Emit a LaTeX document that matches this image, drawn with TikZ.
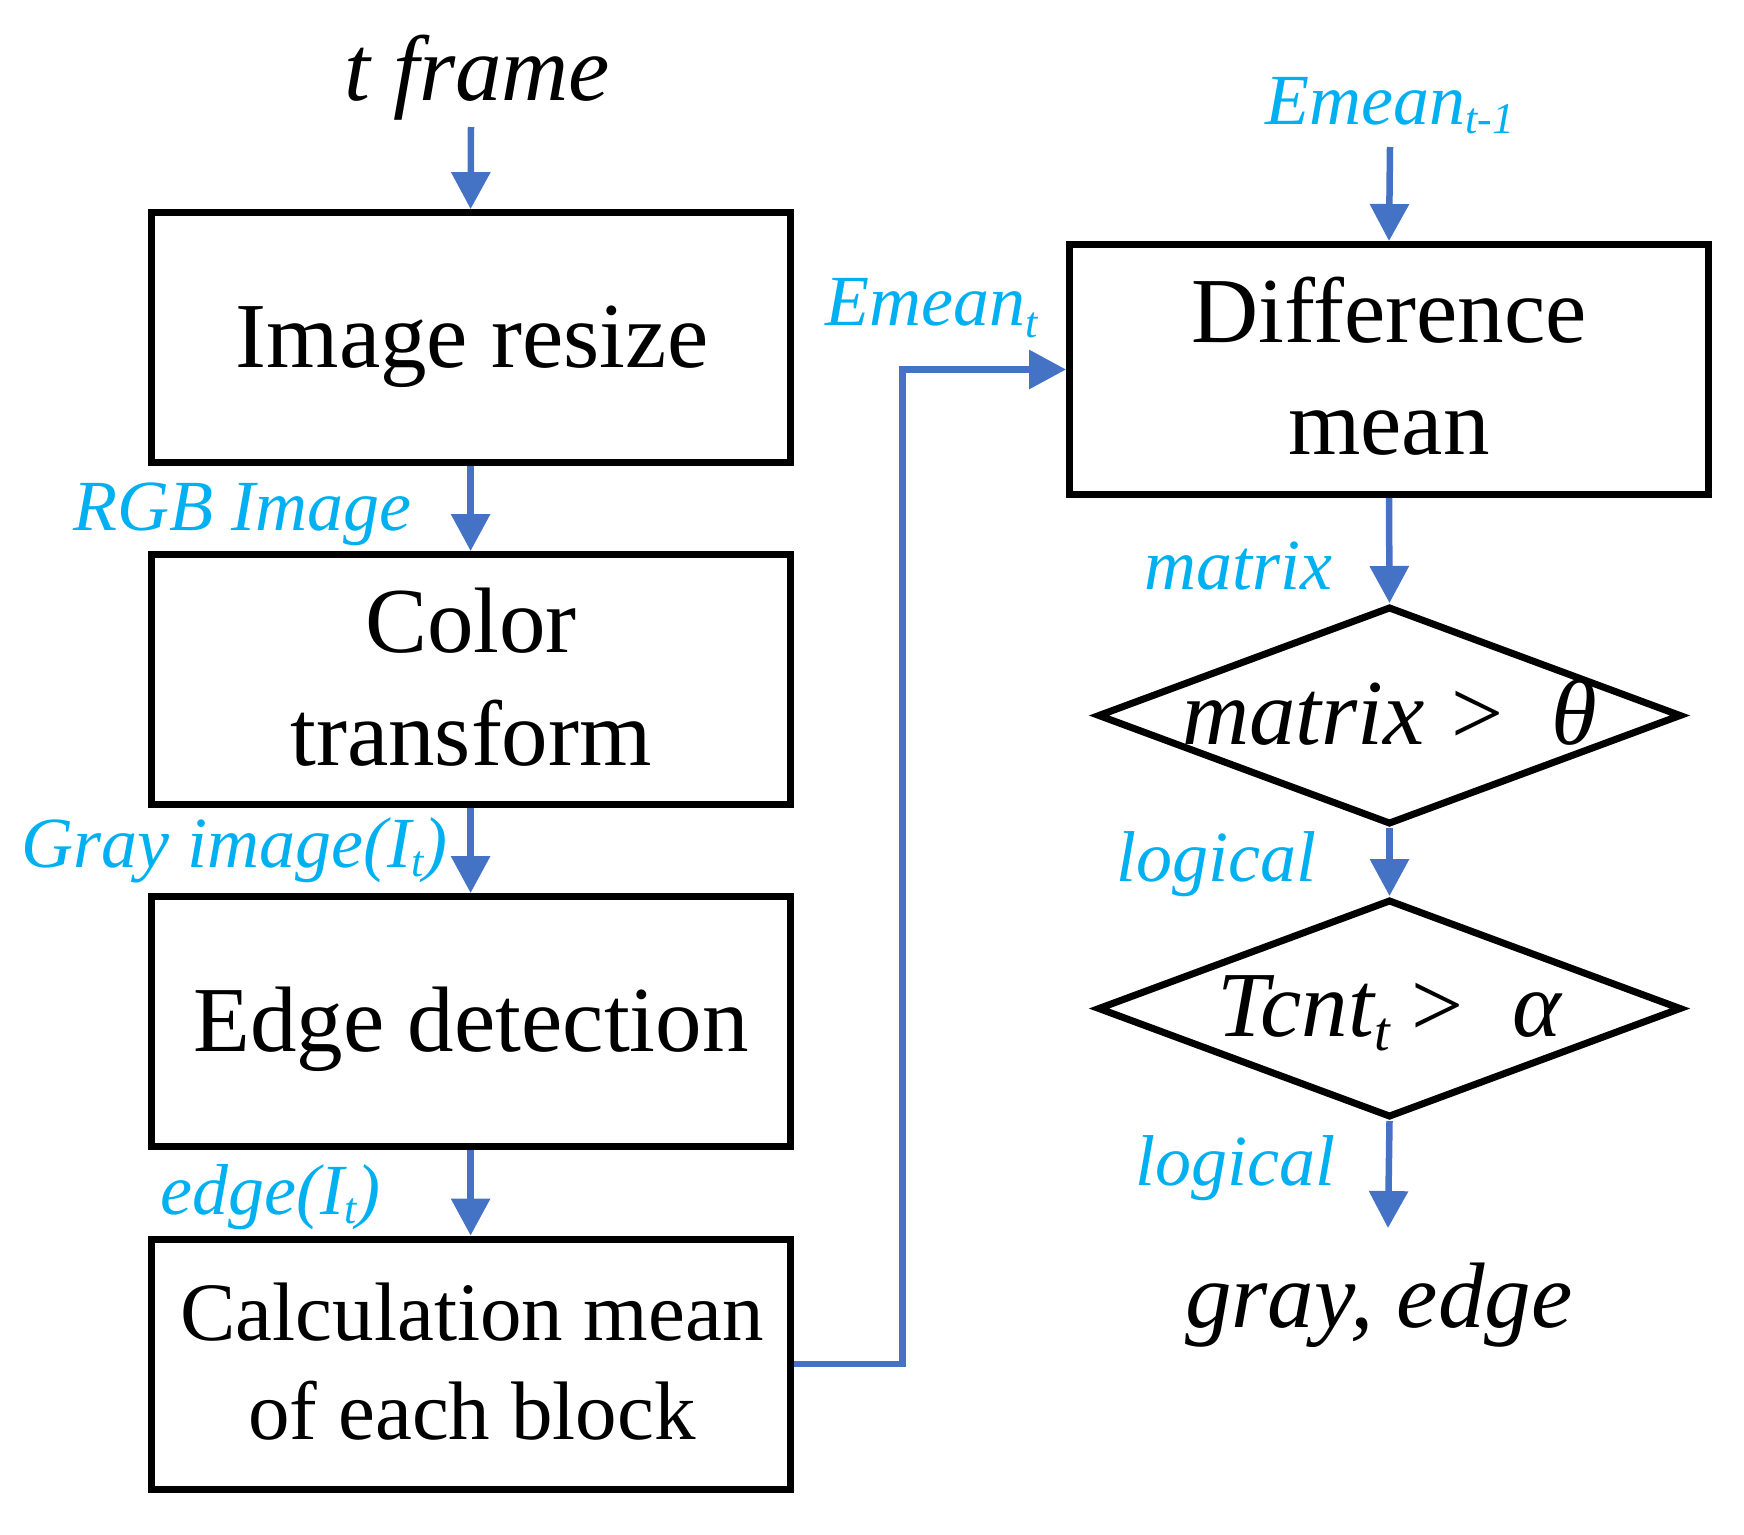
\documentclass[tikz,border=0pt]{standalone}
\usepackage{fontspec}
\setmainfont{Liberation Serif}
\usetikzlibrary{arrows.meta,shapes.geometric}
\definecolor{lblue}{HTML}{00B0F0}
\definecolor{ablue}{HTML}{4472C4}
\newcommand\mysub[3]{\raisebox{-#2pt}{\fontsize{#1}{#1}\selectfont #3}}
\begin{document}
\begin{tikzpicture}[x=1pt,y=-1pt,
 box/.style={draw=black,line width=7pt,minimum width=639pt,minimum height=250pt,inner sep=0pt},
 dia/.style={draw=black,line width=7pt,diamond,minimum width=584pt,minimum height=218pt,inner sep=0pt},
 big/.style={inner sep=0pt,font=\fontsize{93}{93}\selectfont},
 bigit/.style={inner sep=0pt,font=\fontsize{93}{93}\selectfont\itshape},
 lab/.style={inner sep=0pt,text=lblue,font=\fontsize{72}{72}\selectfont\itshape},
 arr/.style={draw=ablue,line width=6.5pt,-{Triangle[width=38pt,length=37pt]}}]
\useasboundingbox (0,0) rectangle (1744,1534);
% boxes
\node[box] (b1) at (470.6,337.6) {};
\node[box] (b2) at (470.6,679.5) {};
\node[box] (b3) at (470.6,1021.5) {};
\node[box] (b4) at (470.6,1364) {};
\node[box] (b5) at (1389,369.5) {};
\node[dia] (d1) at (1389.5,715.5) {};
\node[dia] (d2) at (1389.5,1008.5) {};
% box texts
\node[big,anchor=base] (t1) at (472,367) {Image resize};
\node[big,anchor=base] (t2a) at (471,652) {Color};
\node[big,anchor=base] (t2b) at (471,765) {transform};
\node[big,anchor=base] (t3) at (471,1051) {Edge detection};
\node[big,anchor=base,font=\fontsize{83}{83}\selectfont] (t4a) at (472,1340) {Calculation mean};
\node[big,anchor=base,font=\fontsize{83}{83}\selectfont] (t4b) at (472,1439) {of each block};
\node[big,anchor=base] (t5a) at (1389,342.5) {Difference};
\node[big,anchor=base] (t5b) at (1389,454.6) {mean};
% black italic texts
\node[bigit,anchor=base west] (tf) at (344,100) {t frame};
\node[bigit,anchor=base west] (m1) at (1182,744) {matrix\hspace{20pt}>\hspace{44pt}θ};
\node[bigit,anchor=base west] (m2) at (1217,1036.5) {Tcnt\mysub{56}{14}{t}\hspace{16pt}>\hspace{44pt}α};
\node[bigit,anchor=base west] (ge) at (1185,1327) {gray, edge};
% blue labels
\node[lab,anchor=base east] (l1) at (412,530) {RGB Image};
\node[lab,anchor=base east] (l2) at (448,867) {Gray image(I\mysub{44}{9}{t})};
\node[lab,anchor=base east] (l3) at (381,1214) {edge(I\mysub{44}{9}{t})};
\node[lab,anchor=base west] (l4) at (825,325) {Emean\mysub{44}{12}{t}};
\node[lab,anchor=base west] (l5) at (1265,124) {Emean\mysub{44}{9}{t-1}};
\node[lab,anchor=base east] (l6) at (1333,589) {matrix};
\node[lab,anchor=base east] (l7) at (1317,881) {logical};
\node[lab,anchor=base east] (l8) at (1336,1185) {logical};
% connectors
\coordinate (in0) at (471,127);
\coordinate (in1) at (1390,147);
\coordinate (out1) at (1388,1228);
\coordinate (bend) at (902.5,369.5);
\draw[arr] (in0) -- (b1.north);
\draw[arr] (b1.south) -- (b2.north);
\draw[arr] (b2.south) -- (b3.north);
\draw[arr] (b3.south) -- (b4.north);
\draw[arr] (b4.east) -| (bend) -- (b5.west);
\draw[arr] (in1) -- (b5.north);
\draw[arr] (b5.south) -- (d1.north);
\draw[arr] (d1.south) -- (d2.north);
\draw[arr] (d2.south) -- (out1);
\end{tikzpicture}
\end{document}
